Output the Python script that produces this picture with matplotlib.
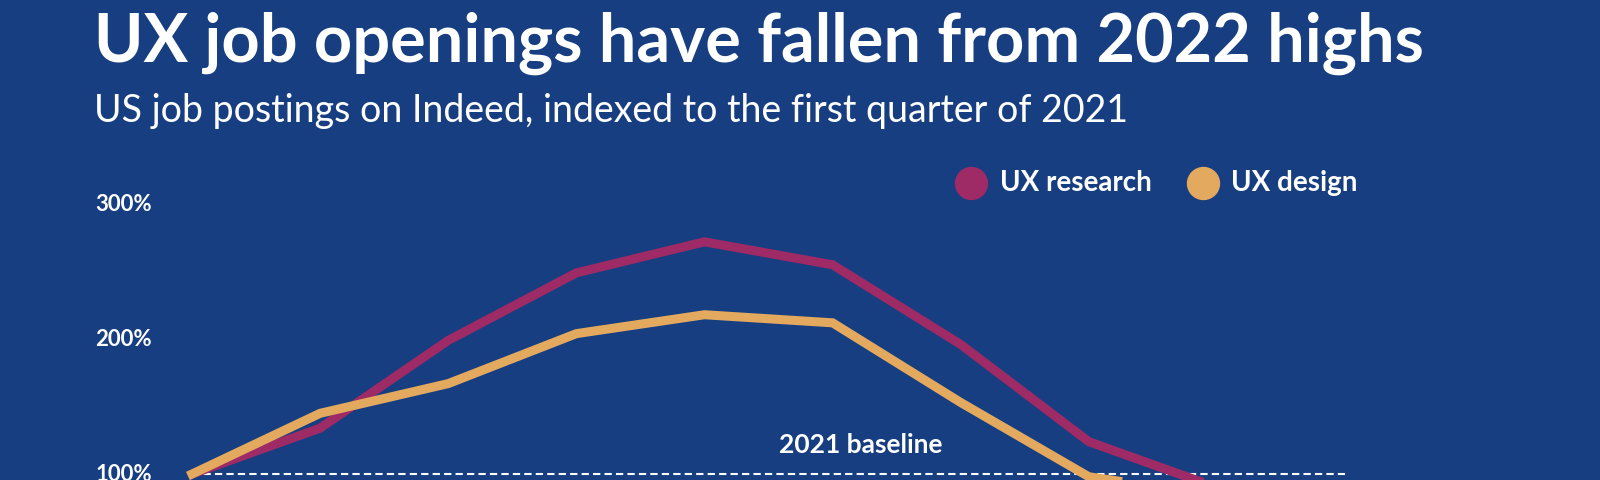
import matplotlib
matplotlib.use("Agg")
import matplotlib.pyplot as plt
from matplotlib.lines import Line2D

# Quarterly index of US job postings on Indeed (Q1 2021 = 100%)
quarters = ["Q1 2021", "Q2 2021", "Q3 2021", "Q4 2021", "Q1 2022",
            "Q2 2022", "Q3 2022", "Q4 2022", "Q1 2023", "Q2 2023"]
ux_research = [100, 134, 199, 249, 272, 255, 196, 124, 90, 82]
ux_design = [100, 145, 167, 204, 218, 212, 153, 98, 84, 76]
y_ticks = [100, 200, 300]
y_tick_labels = ["100%", "200%", "300%"]
series_names = ["UX research", "UX design"]

bg = "#173e80"
c_research = "#9e2a66"
c_design = "#e3aa5f"
font = "Lato"

fig = plt.figure(figsize=(16, 4.8), dpi=100, facecolor=bg)
ax = fig.add_axes([0, 0, 1, 1])
ax.set_facecolor(bg)
for s in ax.spines.values():
    s.set_visible(False)
ax.set_xticks([])
ax.set_yticks([])

x = list(range(len(quarters)))
ax.set_xlim(-1.499, 10.99)
ax.set_ylim(95.6, 451.1)

# baseline
ax.hlines(100, x[0], x[-1], colors="white", linewidth=1.5, linestyles=(0, (3.5, 2)), zorder=1)
ax.text(5.22, 121.5, "2021 baseline", color="white", fontsize=19, fontweight="bold",
        family=font, ha="center", va="center")

ax.plot(x, ux_research, color=c_research, linewidth=6.5, solid_joinstyle="miter", zorder=2)
ax.plot(x, ux_design, color=c_design, linewidth=6.5, solid_joinstyle="miter", zorder=3)

# y labels
for t, lab in zip(y_ticks, y_tick_labels):
    ax.text(-0.755, t, lab, color="white", fontsize=16, fontweight="bold",
            family=font, ha="left", va="center")

# titles
fig.text(0.059, 0.871, "UX job openings have fallen from 2022 highs", color="white",
         fontsize=48, fontweight="bold", family=font, ha="left", va="baseline")
fig.text(0.059, 0.746, "US job postings on Indeed, indexed to the first quarter of 2021",
         color="white", fontsize=27, family=font, ha="left", va="baseline")

# legend, drawn by hand: dot then label
legend_pos = [(971, 1000), (1203, 1231)]
for (cx, tx), name, col in zip(legend_pos, series_names, [c_research, c_design]):
    fig.add_artist(Line2D([cx / 1600], [1 - 183 / 480], transform=fig.transFigure,
                          marker="o", markersize=23, linestyle="none",
                          markerfacecolor=col, markeredgecolor=col))
    fig.text(tx / 1600, 1 - 183 / 480, name, color="white", fontsize=20,
             fontweight="bold", family=font, ha="left", va="center")

fig.savefig("out.png", dpi=100, facecolor=bg)
